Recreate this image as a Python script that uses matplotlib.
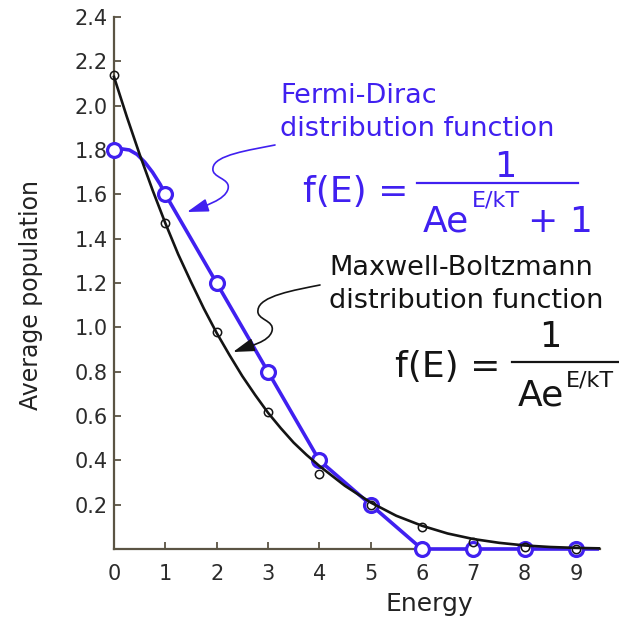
import matplotlib
matplotlib.use('Agg')
import matplotlib.pyplot as plt
from matplotlib.patches import FancyArrowPatch
from matplotlib.path import Path
from matplotlib.lines import Line2D

plt.rcParams['font.family'] = ['DejaVu Sans']

# ---------------- data ----------------
energy_points = [0, 1, 2, 3, 4, 5, 6, 7, 8, 9]
mb_points = [2.14, 1.47, 0.98, 0.62, 0.34, 0.20, 0.10, 0.03, 0.01, 0.00]
fd_points = [1.80, 1.60, 1.20, 0.80, 0.40, 0.20, 0.00, 0.00, 0.00, 0.00]

mb_curve_energy = [0, 0.25, 0.5, 0.75, 1, 1.25, 1.5, 1.75, 2, 2.25, 2.5,
                   2.75, 3, 3.25, 3.5, 3.75, 4, 4.5, 5, 5.5, 6, 6.5,
                   7, 7.5, 8, 8.5, 9, 9.45]
mb_curve = [2.13, 1.95, 1.78, 1.62, 1.47, 1.33, 1.205, 1.085, 0.975, 0.875,
            0.78, 0.695, 0.615, 0.545, 0.48, 0.425, 0.375, 0.285, 0.21,
            0.15, 0.105, 0.07, 0.045, 0.028, 0.016, 0.009, 0.005, 0.003]

fd_curve_energy = [0, 0.15, 0.3, 0.45, 0.6, 0.75, 0.9, 1, 2, 3, 4, 5, 6, 9.45]
fd_curve = [1.80, 1.805, 1.80, 1.78, 1.745, 1.70, 1.645, 1.60, 1.20, 0.80,
            0.40, 0.20, 0.00, 0.00]

x_ticks = [0, 1, 2, 3, 4, 5, 6, 7, 8, 9]
x_tick_labels = ['0', '1', '2', '3', '4', '5', '6', '7', '8', '9']
y_ticks = [0.2, 0.4, 0.6, 0.8, 1.0, 1.2, 1.4, 1.6, 1.8, 2.0, 2.2, 2.4]
y_tick_labels = ['0.2', '0.4', '0.6', '0.8', '1.0', '1.2', '1.4', '1.6',
                 '1.8', '2.0', '2.2', '2.4']

BLUE = '#4020f0'
BLACK = '#141414'
AXC = '#5b5444'
W = 619.0

fig = plt.figure(figsize=(6.19, 6.19), dpi=100)
fig.patch.set_facecolor('white')
ax = fig.add_axes([114 / W, 70 / W, 486 / W, 532 / W])

# Fermi-Dirac
ax.plot(fd_curve_energy, fd_curve, color=BLUE, lw=2.6, zorder=3,
        clip_on=False, solid_capstyle='butt')
ax.plot(energy_points, fd_points, ls='none', marker='o', ms=10, mew=2.3,
        mec=BLUE, mfc='white', zorder=4, clip_on=False)
# Maxwell-Boltzmann
ax.plot(mb_curve_energy, mb_curve, color=BLACK, lw=1.9, zorder=5,
        clip_on=False)
ax.plot(energy_points, mb_points, ls='none', marker='o', ms=6, mew=1.1,
        mec=BLACK, mfc='none', zorder=6, clip_on=False)

ax.set_xlim(0, 9.47)
ax.set_ylim(0, 2.4)
ax.set_xticks(x_ticks)
ax.set_xticklabels(x_tick_labels)
ax.set_yticks(y_ticks)
ax.set_yticklabels(y_tick_labels)

for s in ['top', 'right']:
    ax.spines[s].set_visible(False)
for s in ['left', 'bottom']:
    ax.spines[s].set_color(AXC)
    ax.spines[s].set_linewidth(1.6)

ax.tick_params(axis='both', direction='in', length=5, width=1.3,
               color=AXC, labelcolor='#2b2b2b', labelsize=15)
ax.tick_params(axis='x', pad=11)
ax.tick_params(axis='y', pad=4.5)

ax.set_xlabel('Energy', fontsize=18, color='#222222')
ax.xaxis.set_label_coords(0.648, -0.081)
ax.set_ylabel('Average population', fontsize=17, color='#222222')
ax.yaxis.set_label_coords(-0.146, 0.478)


def P(x, y):
    return (x / W, 1 - y / W)


def t(x, y, s, size, color, ha='left'):
    fig.text(x / W, 1 - y / W, s, fontsize=size, color=color, ha=ha,
             va='baseline')


# Labels
t(280, 103, 'Fermi-Dirac', 19.5, BLUE)
t(280, 136, 'distribution function', 19.5, BLUE)
t(329, 275, 'Maxwell-Boltzmann', 19.5, BLACK)
t(329, 308, 'distribution function', 19.5, BLACK)

# Fermi-Dirac formula
t(303, 202, 'f(E) =', 26, BLUE)
fig.add_artist(Line2D([417 / W, 578 / W], [1 - 183 / W, 1 - 183 / W],
                      color=BLUE, lw=1.6))
t(505, 177, '1', 25, BLUE, ha='center')
t(423, 232, 'Ae', 26, BLUE)
t(472, 207, 'E/kT', 16, BLUE)
t(528, 232, '+ 1', 26, BLUE)

# Maxwell-Boltzmann formula
t(395, 377, 'f(E) =', 26, BLACK)
fig.add_artist(Line2D([512 / W, 619 / W], [1 - 362 / W, 1 - 362 / W],
                      color=BLACK, lw=1.6))
t(550, 347, '1', 25, BLACK, ha='center')
t(518, 405, 'Ae', 26, BLACK)
t(566, 386, 'E/kT', 16, BLACK)


def squiggle(pts, color):
    codes = [Path.MOVETO] + [Path.CURVE4] * (len(pts) - 1)
    path = Path([P(*p) for p in pts], codes)
    arr = FancyArrowPatch(path=path, transform=fig.transFigure,
                          arrowstyle='-|>,head_length=0.65,head_width=0.2',
                          mutation_scale=20, color=color, lw=1.2)
    fig.add_artist(arr)


squiggle([(275, 145), (250, 150), (214, 155), (213, 168),
          (211, 178), (231, 178), (228, 189),
          (225, 200), (205, 206), (187, 212)], BLUE)
squiggle([(320, 285), (295, 290), (259, 296), (258, 310),
          (256, 320), (275, 320), (272, 331),
          (269, 342), (250, 346), (233, 352)], BLACK)

fig.savefig('out.png', dpi=100, facecolor='white')
